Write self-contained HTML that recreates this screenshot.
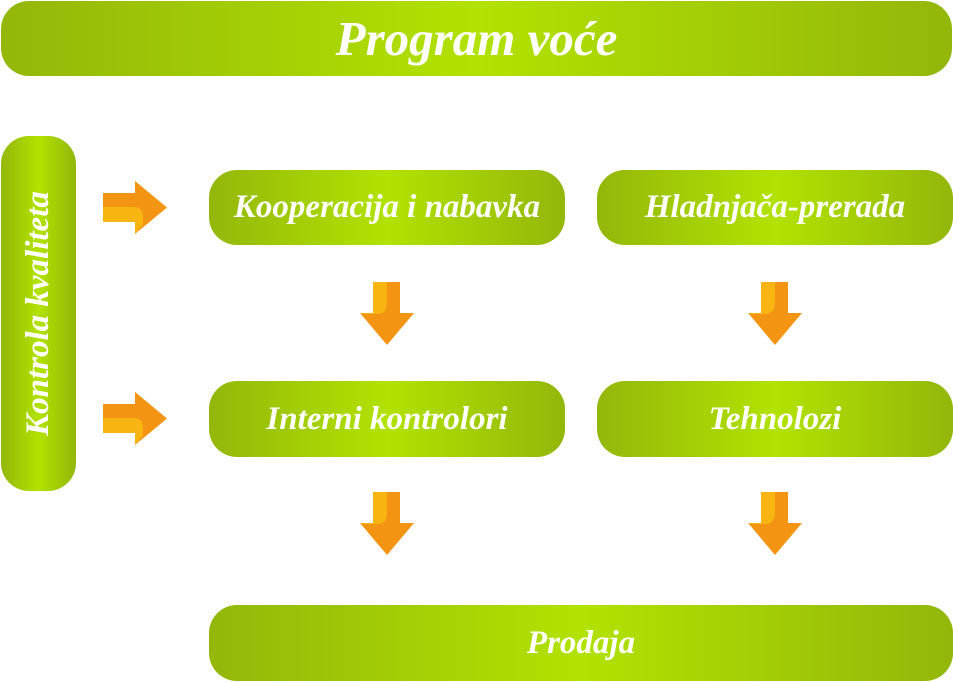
<!DOCTYPE html>
<html><head><meta charset="utf-8"><style>
body{margin:0;width:953px;height:682px;background:#fff;position:relative;overflow:hidden;font-family:"Liberation Serif",serif;}
.b{position:absolute;border-radius:28px;background:linear-gradient(90deg,#93b70a 0%,#b2e200 50%,#93b70a 100%);color:#fff;font-weight:bold;font-style:italic;display:flex;align-items:center;justify-content:center;font-size:33px;}
svg{position:absolute;}
</style></head><body>
<div class="b" style="left:1px;top:1px;width:951px;height:75px;font-size:49px;">Program voće</div>
<div class="b" style="left:1px;top:136px;width:75px;height:355px;"><span style="transform:rotate(-90deg);white-space:nowrap;font-size:33px;">Kontrola kvaliteta</span></div>
<div class="b" style="left:209px;top:170px;width:356px;height:75px;">Kooperacija i nabavka</div>
<div class="b" style="left:597px;top:170px;width:356px;height:75px;">Hladnjača-prerada</div>
<div class="b" style="left:209px;top:381px;width:356px;height:76px;">Interni kontrolori</div>
<div class="b" style="left:597px;top:381px;width:356px;height:76px;">Tehnolozi</div>
<div class="b" style="left:209px;top:605px;width:744px;height:76px;">Prodaja</div>

<svg width="953" height="682" viewBox="0 0 953 682">
<defs>
<g id="r"><path d="M0 12H32V0L64 26.5L32 53V41H0Z" fill="#f39512"/><path d="M0 26H30Q40 26 40 36V44L32 53V41H0Z" fill="#f8b511"/></g>
<g id="d"><path d="M13 0H40V31H54L27 63L0 31H13Z" fill="#f39512"/><path d="M13 0H27V20Q27 32 17 32H4L0 31H13Z" fill="#f8b511"/></g>
</defs>
<use href="#r" x="103" y="181"/>
<use href="#r" x="103" y="392"/>
<use href="#d" x="360" y="282"/>
<use href="#d" x="748" y="282"/>
<use href="#d" x="360" y="492"/>
<use href="#d" x="748" y="492"/>
</svg>
</body></html>
